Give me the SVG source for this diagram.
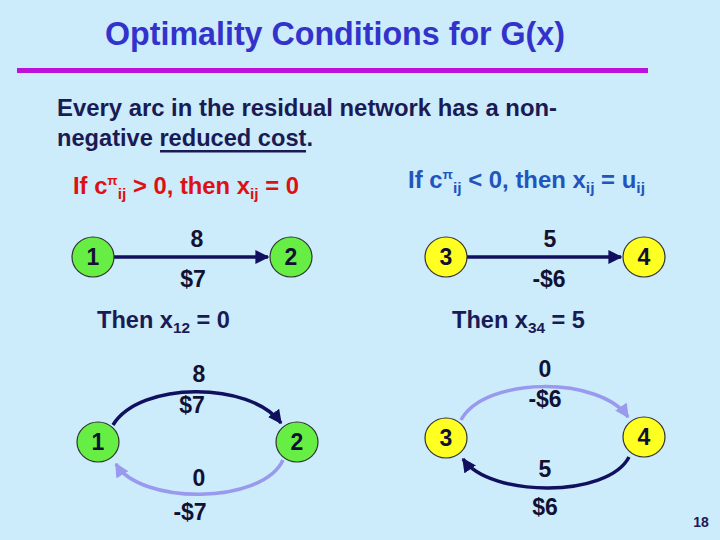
<svg xmlns="http://www.w3.org/2000/svg" width="720" height="540" viewBox="0 0 720 540">
<style>
text{font-family:"Liberation Sans",Arial,sans-serif;font-weight:bold}
.title{fill:#3333CC;font-size:33px}
.body{fill:#1A1A55;font-size:24px}
.red{fill:#DD1111;font-size:23px}
.blue{fill:#2255BB;font-size:23px}
.then{fill:#1A1A55;font-size:23px}
.lbl{fill:#111133;font-size:23px;text-anchor:middle}
.num{fill:#111133;font-size:23px;text-anchor:middle}
.green{fill:#66EE44;stroke:#333333;stroke-width:1.2}
.yellow{fill:#FFFF22;stroke:#333333;stroke-width:1.2}
.dark{fill:none;stroke:#10105E;stroke-width:3.5}
.light{fill:none;stroke:#9999EE;stroke-width:3.5}
.sub{font-size:15px}
.sup{font-size:13px}
</style>
<defs>
<marker id="ad" viewBox="0 0 10 10" refX="9" refY="5" markerWidth="4" markerHeight="4" orient="auto" markerUnits="strokeWidth"><path d="M0,0 L10,5 L0,10 z" fill="#10105E"/></marker>
<marker id="al" viewBox="0 0 10 10" refX="9" refY="5" markerWidth="4" markerHeight="4" orient="auto" markerUnits="strokeWidth"><path d="M0,0 L10,5 L0,10 z" fill="#9999EE"/></marker>
</defs>
<rect x="0" y="0" width="720" height="540" fill="#CCEBFB"/>
<text class="title" x="105" y="45" textLength="460" lengthAdjust="spacingAndGlyphs">Optimality Conditions for  G(x)</text>
<rect x="17" y="68" width="631" height="5" fill="#BB11DD"/>
<text class="body" x="57" y="116" textLength="500" lengthAdjust="spacingAndGlyphs">Every arc in the residual network has a non-</text>
<text class="body" x="57" y="146" textLength="256" lengthAdjust="spacingAndGlyphs">negative reduced cost.</text>
<rect x="160" y="150" width="146" height="2.5" fill="#1A1A55"/>
<text class="red" x="73" y="194" textLength="226" lengthAdjust="spacingAndGlyphs">If c<tspan class="sup" dy="-9">π</tspan><tspan class="sub" dy="14">ij</tspan><tspan dy="-5"> &gt; 0, then x</tspan><tspan class="sub" dy="5">ij</tspan><tspan dy="-5"> = 0</tspan></text>
<text class="blue" x="408" y="188" textLength="237" lengthAdjust="spacingAndGlyphs">If c<tspan class="sup" dy="-9">π</tspan><tspan class="sub" dy="14">ij</tspan><tspan dy="-5"> &lt; 0, then x</tspan><tspan class="sub" dy="5">ij</tspan><tspan dy="-5"> = u</tspan><tspan class="sub" dy="5">ij</tspan></text>
<text class="then" x="97" y="328" textLength="133" lengthAdjust="spacingAndGlyphs">Then x<tspan class="sub" dy="5">12</tspan><tspan dy="-5"> = 0</tspan></text>
<text class="then" x="452" y="328" textLength="133" lengthAdjust="spacingAndGlyphs">Then x<tspan class="sub" dy="5">34</tspan><tspan dy="-5"> = 5</tspan></text>
<g id="connectors">
<line class="dark" x1="114" y1="257" x2="268" y2="257" marker-end="url(#ad)"/>
<line class="dark" x1="467" y1="257" x2="621" y2="257" marker-end="url(#ad)"/>
<path class="dark" d="M113,425 C140,381 250,381 281,423" marker-end="url(#ad)"/>
<path class="light" d="M283,460 C262,505 140,505 116,464" marker-end="url(#al)"/>
<path class="light" d="M461,420 C485,376 600,376 628,417" marker-end="url(#al)"/>
<path class="dark" d="M629,457 C608,498 490,498 463,459" marker-end="url(#ad)"/>
</g>
<g id="labels">
<text class="lbl" x="197" y="247">8</text>
<text class="lbl" x="193" y="287">$7</text>
<text class="lbl" x="550" y="247">5</text>
<text class="lbl" x="549" y="287">-$6</text>
<text class="lbl" x="199" y="382">8</text>
<text class="lbl" x="192" y="413">$7</text>
<text class="lbl" x="199" y="486">0</text>
<text class="lbl" x="190" y="520">-$7</text>
<text class="lbl" x="545" y="377">0</text>
<text class="lbl" x="545" y="407">-$6</text>
<text class="lbl" x="545" y="477">5</text>
<text class="lbl" x="545" y="515">$6</text>
</g>
<g id="n1a"><ellipse class="green" cx="93" cy="257" rx="21" ry="20"/><text class="num" x="93" y="265">1</text></g>
<g id="n2a"><ellipse class="green" cx="291" cy="257" rx="21" ry="20"/><text class="num" x="291" y="265">2</text></g>
<g id="n3a"><ellipse class="yellow" cx="446" cy="257" rx="21" ry="20"/><text class="num" x="446" y="265">3</text></g>
<g id="n4a"><ellipse class="yellow" cx="644" cy="257" rx="21" ry="20"/><text class="num" x="644" y="265">4</text></g>
<g id="n1b"><ellipse class="green" cx="98" cy="442" rx="21" ry="20"/><text class="num" x="98" y="450">1</text></g>
<g id="n2b"><ellipse class="green" cx="297" cy="442" rx="21" ry="20"/><text class="num" x="297" y="450">2</text></g>
<g id="n3b"><ellipse class="yellow" cx="446" cy="438" rx="21" ry="20"/><text class="num" x="446" y="446">3</text></g>
<g id="n4b"><ellipse class="yellow" cx="644" cy="437" rx="21" ry="20"/><text class="num" x="644" y="445">4</text></g>
<text x="701" y="527" style="fill:#1A1A55;font-size:14px;text-anchor:middle">18</text>
</svg>
